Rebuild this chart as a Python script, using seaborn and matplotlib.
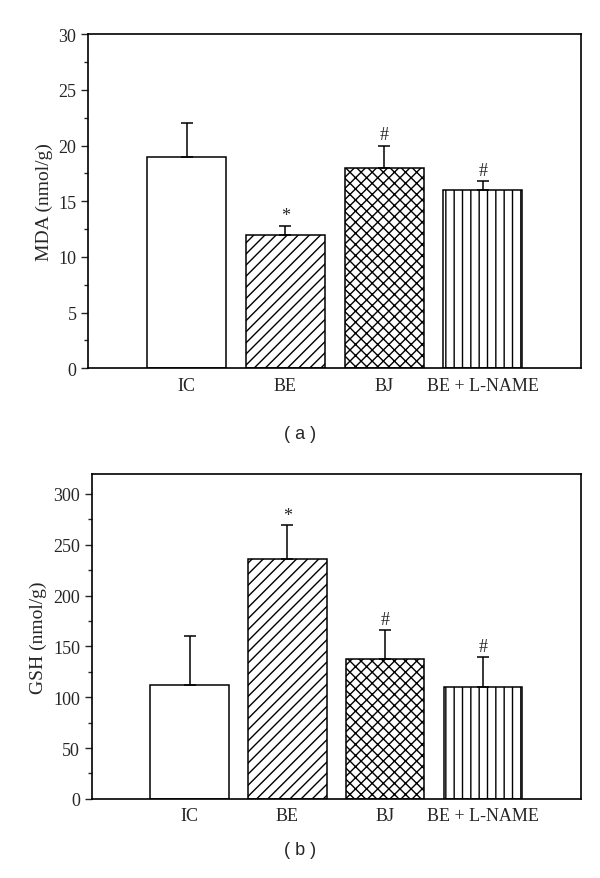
import matplotlib
import matplotlib.pyplot as plt
import pandas as pd
import seaborn as sns

matplotlib.use('Agg')

# Datos
groups = ["IC", "BE", "BJ", "BE + L-NAME"]
mda_mean = [19, 12, 18, 16]
mda_err = [3, 0.8, 2, 0.8]
mda_marks = ["", "*", "#", "#"]
gsh_mean = [112, 236, 138, 110]
gsh_err = [48, 33, 28, 30]
gsh_marks = ["", "*", "#", "#"]
hatches = ["", "///", "xxx", "||"]

sns.set_theme(style="ticks")
plt.rcParams['font.family'] = ['Liberation Serif', 'DejaVu Serif']
plt.rcParams['hatch.linewidth'] = 1.0


def draw_panel(ax, means, errs, marks, ylabel, ymax, major, minor):
    df = pd.DataFrame({"group": groups, "value": means})
    sns.barplot(data=df, x="group", y="value", order=groups, color="white",
                edgecolor="black", linewidth=1.1, width=0.8, ax=ax,
                errorbar=None, saturation=1)
    for patch, h in zip(ax.patches, hatches):
        patch.set_hatch(h)
        patch.set_facecolor("white")
    xs = range(len(groups))
    ax.errorbar(xs, means, yerr=[[0] * len(errs), errs], fmt="none",
                ecolor="black", elinewidth=1.1, capsize=4, capthick=1.1)
    for x, m, e, mk in zip(xs, means, errs, marks):
        if mk:
            ax.text(x, m + e + ymax * 0.006, mk, ha="center", va="bottom",
                    fontsize=13)
    ax.set_xlim(-1, 4)
    ax.set_ylim(0, ymax)
    ax.set_yticks(range(0, int(ymax) + 1, major))
    ax.yaxis.set_minor_locator(matplotlib.ticker.MultipleLocator(minor))
    ax.tick_params(axis="y", which="major", length=5, width=1, labelsize=13)
    ax.tick_params(axis="y", which="minor", length=3, width=1)
    ax.tick_params(axis="x", length=0, labelsize=13, pad=6)
    ax.set_xlabel("")
    ax.set_ylabel(ylabel, fontsize=14)
    for s in ax.spines.values():
        s.set_visible(True)
        s.set_linewidth(1.2)
        s.set_color("black")


fig = plt.figure(figsize=(6, 8.79), dpi=100)
ax1 = fig.add_axes([0.147, 0.580, 0.822, 0.380])
ax2 = fig.add_axes([0.153, 0.090, 0.815, 0.370])

draw_panel(ax1, mda_mean, mda_err, mda_marks, "MDA (nmol/g)", 30, 5, 2.5)
draw_panel(ax2, gsh_mean, gsh_err, gsh_marks, "GSH (nmol/g)", 320, 50, 25)

fig.text(0.5, 0.506, "( a )", ha="center", va="center", fontsize=13,
         family="Liberation Sans")
fig.text(0.5, 0.032, "( b )", ha="center", va="center", fontsize=13,
         family="Liberation Sans")

fig.savefig("out.png", dpi=100)
plt.close()
